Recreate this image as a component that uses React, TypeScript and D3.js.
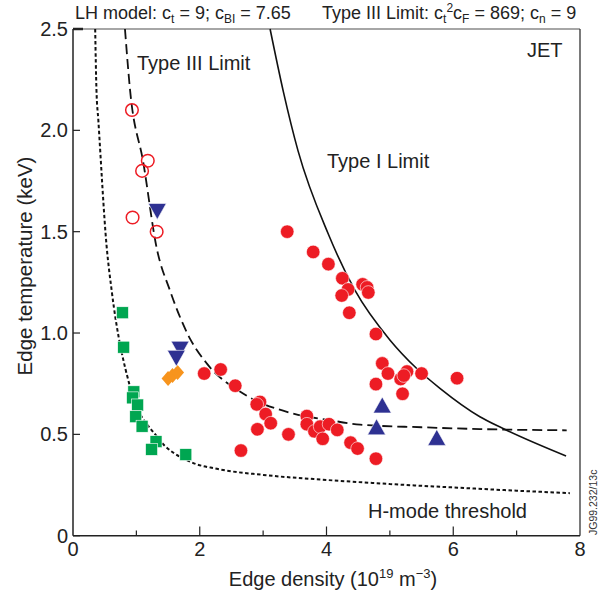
import React from "react";
import * as d3 from "d3";

// ---- data ----
const xTicks = [0, 2, 4, 6, 8];
const xMinorTicks = [1, 3, 5, 7];
const yTicks = [0, 0.5, 1.0, 1.5, 2.0, 2.5];
const yTickLabels = ["0", "0.5", "1.0", "1.5", "2.0", "2.5"];

// Model curves (sampled from the figure)
const typeIIILimit: [number, number][] = [
  [0.82, 2.5], [0.9, 2.2], [1.11, 1.84], [1.32, 1.42], [1.53, 1.21], [1.85, 0.97],
  [2.11, 0.85], [2.69, 0.7], [3.42, 0.607], [4.05, 0.57], [4.53, 0.548], [5.5, 0.535],
  [6.42, 0.526], [7.79, 0.52],
];
const typeILimit: [number, number][] = [
  [3.11, 2.5], [3.32, 2.19], [3.55, 1.9], [4.03, 1.487], [4.45, 1.21], [5.0, 0.966],
  [5.42, 0.826], [5.79, 0.727], [6.42, 0.587], [6.77, 0.531], [7.78, 0.393],
];
const hModeThreshold: [number, number][] = [
  [0.35, 2.5], [0.37, 2.2], [0.4, 2.05], [0.53, 1.43], [0.61, 1.21], [0.9, 0.735],
  [1.32, 0.49], [1.85, 0.365], [2.27, 0.33], [3.0, 0.3], [4.0, 0.275], [5.0, 0.255],
  [6.0, 0.238], [7.0, 0.222], [7.84, 0.21],
];

// Markers
const redFilled: [number, number][] = [
  [2.07, 0.8], [2.33, 0.82], [2.56, 0.74], [2.95, 0.66], [2.9, 0.648], [3.04, 0.6],
  [3.12, 0.555], [2.91, 0.525], [3.4, 0.5], [2.65, 0.42], [3.69, 0.59], [3.69, 0.55],
  [3.81, 0.515], [3.9, 0.538], [3.94, 0.478], [4.04, 0.55], [4.17, 0.522], [4.38, 0.459],
  [4.49, 0.43], [4.78, 0.38],
  [3.38, 1.5], [3.79, 1.4], [4.03, 1.34], [4.25, 1.27], [4.34, 1.215], [4.24, 1.185],
  [4.57, 1.24], [4.64, 1.225], [4.66, 1.2], [4.36, 1.1], [4.78, 0.995], [4.88, 0.85],
  [4.97, 0.8], [5.17, 0.773], [5.27, 0.81], [5.22, 0.79], [5.5, 0.8], [6.06, 0.777],
  [4.78, 0.748], [5.2, 0.7],
];
const redOpen: [number, number][] = [
  [0.93, 2.1], [1.18, 1.85], [1.09, 1.8], [0.94, 1.57], [1.32, 1.5],
];
const greenSquares: [number, number][] = [
  [0.78, 1.1], [0.8, 0.93], [0.96, 0.71], [0.94, 0.68], [1.02, 0.645], [0.99, 0.587],
  [1.09, 0.54], [1.31, 0.464], [1.24, 0.426], [1.78, 0.4],
];
const blueDown: [number, number][] = [
  [1.33, 1.6], [1.69, 0.92], [1.63, 0.875],
];
const blueUp: [number, number][] = [
  [4.88, 0.645], [4.79, 0.537], [5.74, 0.485],
];
const orangeDiamonds: [number, number][] = [
  [1.5, 0.775], [1.57, 0.79], [1.65, 0.805],
];

const RED = "#ed1c24";
const GREEN = "#00a651";
const BLUE = "#2e3192";
const ORANGE = "#f7941d";

export default function App() {
  const W = 598, H = 595;
  const x = d3.scaleLinear().domain([0, 8]).range([73, 580]);
  const y = d3.scaleLinear().domain([0, 2.5]).range([535.7, 29]);
  const line = d3
    .line<[number, number]>()
    .x((d) => x(d[0]))
    .y((d) => y(d[1]))
    .curve(d3.curveMonotoneX);

  const font = "'Liberation Sans', Arial, Helvetica, sans-serif";
  const tri = (cx: number, cy: number, up: boolean) => {
    const w = 9, h = 8;
    return up
      ? `M${cx - w},${cy + h}L${cx + w},${cy + h}L${cx},${cy - h}Z`
      : `M${cx - w},${cy - h}L${cx + w},${cy - h}L${cx},${cy + h}Z`;
  };

  return (
    <svg
      width={W}
      height={H}
      style={{ position: "absolute", left: 0, top: 0, background: "#fff" }}
      fontFamily={font}
    >
      <rect width={W} height={H} fill="#fff" />
      {/* header */}
      <text x={75} y={19} fontSize={18} fill="#222">
        LH model: c<tspan dy={4} fontSize={12}>t</tspan>
        <tspan dy={-4}> = 9; c</tspan>
        <tspan dy={4} fontSize={12}>BI</tspan>
        <tspan dy={-4}> = 7.65</tspan>
      </text>
      <text x={322} y={19} fontSize={18} fill="#222">
        Type III Limit: c<tspan dy={4} fontSize={12}>t</tspan>
        <tspan dy={-11} fontSize={12}>2</tspan>
        <tspan dy={7}>c</tspan>
        <tspan dy={4} fontSize={12}>F</tspan>
        <tspan dy={-4}> = 869; c</tspan>
        <tspan dy={4} fontSize={12}>n</tspan>
        <tspan dy={-4}> = 9</tspan>
      </text>

      {/* frame */}
      <line x1={73} x2={580} y1={29} y2={29} stroke="#888" strokeWidth={1.5} />
      <line x1={580} x2={580} y1={29} y2={535.7} stroke="#333" strokeWidth={1.3} />
      <line x1={73} x2={73} y1={29} y2={535.7} stroke="#222" strokeWidth={1.5} />
      <line x1={73} x2={580} y1={535.7} y2={535.7} stroke="#222" strokeWidth={1.5} />

      {/* y ticks */}
      {yTicks.map((t, i) => (
        <g key={"y" + i}>
          <line x1={73} x2={i === yTicks.length - 1 ? 83 : 80} y1={y(t)} y2={y(t)} stroke="#222" strokeWidth={i === yTicks.length - 1 ? 2.5 : 1.2} />
          <text x={68} y={y(t) + 7} fontSize={20} textAnchor="end" fill="#222">
            {yTickLabels[i]}
          </text>
        </g>
      ))}
      {/* x ticks */}
      {xTicks.map((t) => (
        <g key={"x" + t}>
          {t > 0 && t < 8 && (
            <line x1={x(t)} x2={x(t)} y1={535.7} y2={526.5} stroke="#222" strokeWidth={1.2} />
          )}
          <text x={x(t)} y={556} fontSize={20} textAnchor="middle" fill="#222">
            {t}
          </text>
        </g>
      ))}
      {xMinorTicks.map((t) => (
        <line key={"xm" + t} x1={x(t)} x2={x(t)} y1={535.7} y2={530.5} stroke="#222" strokeWidth={1.2} />
      ))}

      {/* axis titles */}
      <text x={333} y={586} fontSize={20} textAnchor="middle" fill="#222">
        Edge density (10<tspan dy={-8} fontSize={13}>19</tspan>
        <tspan dy={8}> m</tspan>
        <tspan dy={-8} fontSize={13}>−3</tspan>
        <tspan dy={8}>)</tspan>
      </text>
      <text
        transform="translate(32,266) rotate(-90)"
        fontSize={20.5}
        textAnchor="middle"
        fill="#222"
      >
        Edge temperature (keV)
      </text>

      {/* curves */}
      <path d={line(hModeThreshold) || ""} fill="none" stroke="#111" strokeWidth={2} strokeDasharray="3.5,2.5" />
      <path d={line(typeIIILimit) || ""} fill="none" stroke="#111" strokeWidth={1.8} strokeDasharray="10,5" />
      <path d={line(typeILimit) || ""} fill="none" stroke="#111" strokeWidth={1.6} />

      {/* labels */}
      <text x={137} y={70} fontSize={20} fill="#222">Type III Limit</text>
      <text x={327} y={168} fontSize={20} fill="#222">Type I Limit</text>
      <text x={527} y={57} fontSize={20} fill="#222">JET</text>
      <text x={368} y={518} fontSize={20} fill="#222">H-mode threshold</text>
      <text
        transform="translate(597,535) rotate(-90)"
        fontSize={10.5}
        fill="#333"
      >
        JG99.232/13c
      </text>

      {/* markers */}
      {greenSquares.map((d, i) => (
        <rect key={"g" + i} x={x(d[0]) - 6} y={y(d[1]) - 6} width={12} height={12} fill={GREEN} stroke="#fff" strokeWidth={0.6} />
      ))}
      {orangeDiamonds.map((d, i) => {
        const cx = x(d[0]), cy = y(d[1]);
        return (
          <path key={"o" + i} d={`M${cx},${cy - 7.5}L${cx + 6.5},${cy}L${cx},${cy + 7.5}L${cx - 6.5},${cy}Z`} fill={ORANGE} />
        );
      })}
      {blueDown.map((d, i) => (
        <path key={"bd" + i} d={tri(x(d[0]), y(d[1]), false)} fill={BLUE} stroke="#fff" strokeWidth={0.6} />
      ))}
      {blueUp.map((d, i) => (
        <path key={"bu" + i} d={tri(x(d[0]), y(d[1]), true)} fill={BLUE} stroke="#fff" strokeWidth={0.6} />
      ))}
      {redOpen.map((d, i) => (
        <circle key={"ro" + i} cx={x(d[0])} cy={y(d[1])} r={6.3} fill="none" stroke={RED} strokeWidth={1.5} />
      ))}
      {redFilled.map((d, i) => (
        <circle key={"rf" + i} cx={x(d[0])} cy={y(d[1])} r={6.8} fill={RED} stroke="#fff" strokeWidth={0.6} />
      ))}
    </svg>
  );
}
